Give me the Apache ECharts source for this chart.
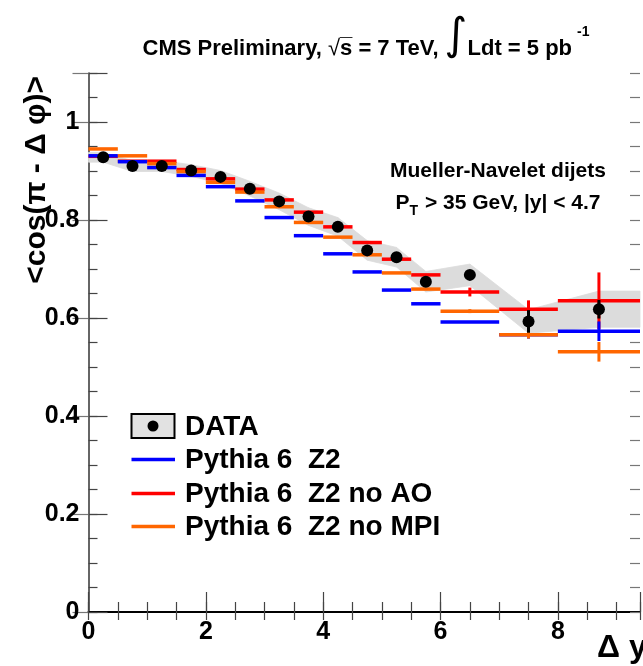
<!DOCTYPE html>
<html>
<head>
<meta charset="utf-8">
<script src="https://cdn.jsdelivr.net/npm/echarts@6/dist/echarts.min.js"></script>
<style>
    html, body, #main {
        width: 100%;
        height: 100%;
        margin: 0;
        background: #fff;
    }
</style>
</head>
<body>
<div id="main"></div>
<script>
    // bins in delta y
    var binEdges = [0, 0.5, 1, 1.5, 2, 2.5, 3, 3.5, 4, 4.5, 5, 5.5, 6, 7, 8, 9.4];

    // DATA points
    var dataX   = [0.25, 0.75, 1.25, 1.75, 2.25, 2.75, 3.25, 3.75, 4.25, 4.75, 5.25, 5.75, 6.5, 7.5, 8.7];
    var dataY   = [0.928, 0.910, 0.910, 0.901, 0.888, 0.864, 0.838, 0.807, 0.786, 0.738, 0.724, 0.674, 0.688, 0.593, 0.618];
    var dataErr = [0, 0, 0, 0, 0, 0, 0, 0, 0, 0, 0, 0.004, 0.008, 0.023, 0.019];
    var dataSys = [0.010, 0.011, 0.011, 0.012, 0.013, 0.015, 0.017, 0.018, 0.019, 0.020, 0.020, 0.021, 0.022, 0.024, 0.037];

    // Pythia 6 Z2
    var z2      = [0.931, 0.919, 0.907, 0.891, 0.868, 0.839, 0.805, 0.768, 0.731, 0.694, 0.657, 0.629, 0.592, 0.566, 0.573];
    var z2Err   = [0, 0, 0, 0, 0, 0, 0, 0, 0, 0, 0, 0, 0, 0.008, 0.02];
    // Pythia 6 Z2 no AO
    var noAO    = [0.930, 0.920, 0.920, 0.903, 0.884, 0.863, 0.841, 0.816, 0.786, 0.754, 0.720, 0.688, 0.653, 0.618, 0.635];
    var noAOErr = [0, 0, 0, 0, 0, 0, 0, 0, 0, 0, 0, 0, 0.009, 0.018, 0.058];
    // Pythia 6 Z2 no MPI
    var noMPI    = [0.945, 0.931, 0.915, 0.899, 0.877, 0.857, 0.827, 0.795, 0.765, 0.729, 0.692, 0.659, 0.614, 0.566, 0.531];
    var noMPIErr = [0, 0, 0, 0, 0, 0, 0, 0, 0, 0, 0, 0, 0.004, 0.008, 0.02];

    var FONT = 'Liberation Sans, Arial, Helvetica, sans-serif';

    function histData(vals, errs) {
        return vals.map(function (v, i) {
            return [binEdges[i], binEdges[i + 1], v, errs[i]];
        });
    }

    function histItem(color) {
        return function (params, api) {
            var y = api.value(2);
            var a = api.coord([api.value(0), y]);
            var b = api.coord([api.value(1), y]);
            var kids = [{
                type: 'line',
                shape: { x1: a[0], y1: a[1], x2: b[0], y2: b[1] },
                style: { stroke: color, lineWidth: 3.5 }
            }];
            var e = api.value(3);
            if (e > 0) {
                var xc = (api.value(0) + api.value(1)) / 2;
                var t = api.coord([xc, y + e]);
                var d = api.coord([xc, y - e]);
                kids.push({
                    type: 'line',
                    shape: { x1: t[0], y1: t[1], x2: d[0], y2: d[1] },
                    style: { stroke: color, lineWidth: 3 }
                });
            }
            return { type: 'group', children: kids };
        };
    }

    // systematic band, edges carried out to the ends of the axis
    var bandX = [binEdges[0]].concat(dataX, [binEdges[binEdges.length - 1]]);
    var bandY = [dataY[0]].concat(dataY, [dataY[dataY.length - 1]]);
    var bandE = [dataSys[0]].concat(dataSys, [dataSys[dataSys.length - 1]]);
    var bandSeg = [];
    for (var i = 0; i < bandX.length - 1; i++) {
        bandSeg.push([bandX[i], bandY[i] - bandE[i], bandY[i] + bandE[i],
                      bandX[i + 1], bandY[i + 1] - bandE[i + 1], bandY[i + 1] + bandE[i + 1]]);
    }

    var chart = echarts.init(document.getElementById('main'));

    var tickStyle = { color: '#444', width: 1.2 };
    var labelStyle = { color: '#000', fontSize: 25, fontWeight: 'bold', fontFamily: FONT };

    chart.setOption({
        animation: false,
        grid: { left: 88.5, top: 73, right: -1, bottom: 54 },
        xAxis: [{
            type: 'value', min: 0, max: 9.4, interval: 2,
            axisLine: { lineStyle: { color: '#333', width: 1.5 } },
            axisTick: { inside: true, length: 20, lineStyle: tickStyle },
            axisLabel: Object.assign({ margin: 8, formatter: function (v) { return v % 2 === 0 ? v : ''; } }, labelStyle),
            splitLine: { show: false }
        }, {
            type: 'value', min: 0, max: 9.4, interval: 0.5, position: 'bottom',
            axisLine: { show: false },
            axisTick: { inside: true, length: 10, lineStyle: tickStyle },
            axisLabel: { show: false },
            splitLine: { show: false }
        }, {
            type: 'value', min: 0, max: 9.4, interval: 0.5, position: 'top',
            axisLine: { lineStyle: { color: '#000', width: 2 } },
            axisTick: { inside: true, length: 8, lineStyle: tickStyle },
            axisLabel: { show: false },
            splitLine: { show: false }
        }],
        yAxis: [{
            type: 'value', min: 0, max: 1.1, interval: 0.2,
            axisLine: { show: true, lineStyle: { color: '#333', width: 1.5 } },
            axisTick: { show: true, inside: true, length: 19, lineStyle: tickStyle },
            axisLabel: Object.assign({ margin: 9, formatter: function (v) { return v > 1.05 ? '' : String(+v.toFixed(1)); } }, labelStyle),
            splitLine: { show: false }
        }, {
            type: 'value', min: 0, max: 1.1, interval: 0.05, position: 'left',
            axisLine: { show: false },
            axisTick: { show: true, inside: true, length: 9, lineStyle: tickStyle },
            axisLabel: { show: false },
            splitLine: { show: false }
        }, {
            type: 'value', min: 0, max: 1.1, interval: 0.2, position: 'right',
            axisLine: { show: false },
            axisTick: { show: true, inside: true, length: 16, lineStyle: { color: '#777', width: 1.2 } },
            axisLabel: { show: false },
            splitLine: { show: false }
        }, {
            type: 'value', min: 0, max: 1.1, interval: 0.05, position: 'right',
            axisLine: { show: false },
            axisTick: { show: true, inside: true, length: 10, lineStyle: { color: '#777', width: 1.2 } },
            axisLabel: { show: false },
            splitLine: { show: false }
        }],
        series: [{
            name: 'DATA sys',
            type: 'custom',
            z: 1,
            data: bandSeg,
            encode: { x: [0, 3], y: [1, 2, 4, 5] },
            renderItem: function (params, api) {
                var p = [
                    api.coord([api.value(0), api.value(1)]),
                    api.coord([api.value(3), api.value(4)]),
                    api.coord([api.value(3), api.value(5)]),
                    api.coord([api.value(0), api.value(2)])
                ];
                return {
                    type: 'polygon',
                    shape: { points: p },
                    style: { fill: '#dcdcdc', stroke: '#dcdcdc', lineWidth: 0.8 }
                };
            }
        }, {
            name: 'Pythia 6  Z2 no AO',
            type: 'custom', z: 2,
            data: histData(noAO, noAOErr),
            encode: { x: [0, 1], y: 2 },
            renderItem: histItem('#ff0000')
        }, {
            name: 'Pythia 6  Z2',
            type: 'custom', z: 3,
            data: histData(z2, z2Err),
            encode: { x: [0, 1], y: 2 },
            renderItem: histItem('#0000ff')
        }, {
            name: 'Pythia 6  Z2 no MPI',
            type: 'custom', z: 4,
            data: histData(noMPI, noMPIErr),
            encode: { x: [0, 1], y: 2 },
            renderItem: histItem('#ff6600')
        }, {
            name: 'DATA err',
            type: 'custom', z: 5,
            data: dataX.map(function (x, i) { return [x, dataY[i], dataErr[i]]; }),
            encode: { x: 0, y: 1 },
            renderItem: function (params, api) {
                var x = api.value(0), y = api.value(1), e = api.value(2);
                var t = api.coord([x, y + e]);
                var d = api.coord([x, y - e]);
                return {
                    type: 'line',
                    shape: { x1: t[0], y1: t[1], x2: d[0], y2: d[1] },
                    style: { stroke: '#000', lineWidth: 3 }
                };
            }
        }, {
            name: 'DATA',
            type: 'scatter', z: 6,
            symbol: 'circle',
            symbolSize: 12,
            itemStyle: { color: '#000', opacity: 1 },
            data: dataX.map(function (x, i) { return [x, dataY[i]]; })
        }],
        graphic: [
            {
                type: 'text', x: 366, y: 40, z: 10,
                style: {
                    text: '{t|CMS Preliminary, }{r|√}{t|s\u0305 = 7 TeV, }{i|∫}{t|Ldt = 5 pb}{s|-1}',
                    align: 'center', verticalAlign: 'middle',
                    rich: {
                        t: { fontSize: 22, fontWeight: 'bold', fontFamily: FONT, fill: '#000', lineHeight: 40, verticalAlign: 'bottom' },
                        r: { fontSize: 22, fontFamily: FONT, fill: '#000', lineHeight: 40, verticalAlign: 'bottom' },
                        i: { fontSize: 44, fontFamily: 'DejaVu Sans', fill: '#000', lineHeight: 40, verticalAlign: 'bottom' },
                        s: { fontSize: 14, fontWeight: 'bold', fontFamily: FONT, fill: '#000', lineHeight: 40, verticalAlign: 'top', padding: [5, 0, 0, 5] }
                    }
                }
            },
            {
                type: 'text', x: 37, y: 76, rotation: Math.PI / 2, z: 10,
                style: {
                    text: '<cos(π - Δ φ)>',
                    fontSize: 30, fontWeight: 'bold', fontFamily: FONT, fill: '#000',
                    align: 'right', verticalAlign: 'middle'
                }
            },
            {
                type: 'text', x: 597, y: 648, z: 10,
                style: {
                    text: 'Δ y',
                    fontSize: 32, fontWeight: 'bold', fontFamily: FONT, fill: '#000',
                    align: 'left', verticalAlign: 'middle'
                }
            },
            {
                type: 'text', x: 498, y: 171, z: 10,
                style: {
                    text: 'Mueller-Navelet dijets',
                    fontSize: 21, fontWeight: 'bold', fontFamily: FONT, fill: '#000',
                    align: 'center', verticalAlign: 'middle'
                }
            },
            {
                type: 'text', x: 498, y: 203, z: 10,
                style: {
                    text: '{t|P}{s|T}{t| > 35 GeV, |y| < 4.7}',
                    align: 'center', verticalAlign: 'middle',
                    rich: {
                        t: { fontSize: 21, fontWeight: 'bold', fontFamily: FONT, fill: '#000', lineHeight: 30, verticalAlign: 'middle' },
                        s: { fontSize: 14, fontWeight: 'bold', fontFamily: FONT, fill: '#000', lineHeight: 30, verticalAlign: 'bottom', padding: [0, 1, 0, 0] }
                    }
                }
            },
            // legend
            {
                type: 'rect', z: 10,
                shape: { x: 131.5, y: 414, width: 43, height: 24 },
                style: { fill: '#e2e2e2', stroke: '#000', lineWidth: 2 }
            },
            {
                type: 'circle', z: 11,
                shape: { cx: 153, cy: 426, r: 5.5 },
                style: { fill: '#000' }
            },
            {
                type: 'text', x: 185, y: 427, z: 10,
                style: { text: 'DATA', fontSize: 28, fontWeight: 'bold', fontFamily: FONT, fill: '#000', verticalAlign: 'middle' }
            },
            {
                type: 'line', z: 10,
                shape: { x1: 131.5, y1: 459.5, x2: 175, y2: 459.5 },
                style: { stroke: '#0000ff', lineWidth: 3.5 }
            },
            {
                type: 'text', x: 185, y: 460, z: 10,
                style: { text: 'Pythia 6  Z2', fontSize: 28, fontWeight: 'bold', fontFamily: FONT, fill: '#000', verticalAlign: 'middle' }
            },
            {
                type: 'line', z: 10,
                shape: { x1: 131.5, y1: 493.5, x2: 175, y2: 493.5 },
                style: { stroke: '#ff0000', lineWidth: 3.5 }
            },
            {
                type: 'text', x: 185, y: 494, z: 10,
                style: { text: 'Pythia 6  Z2 no AO', fontSize: 28, fontWeight: 'bold', fontFamily: FONT, fill: '#000', verticalAlign: 'middle' }
            },
            {
                type: 'line', z: 10,
                shape: { x1: 131.5, y1: 526.5, x2: 175, y2: 526.5 },
                style: { stroke: '#ff6600', lineWidth: 3.5 }
            },
            {
                type: 'text', x: 185, y: 527, z: 10,
                style: { text: 'Pythia 6  Z2 no MPI', fontSize: 28, fontWeight: 'bold', fontFamily: FONT, fill: '#000', verticalAlign: 'middle' }
            }
        ]
    });
</script>
</body>
</html>
